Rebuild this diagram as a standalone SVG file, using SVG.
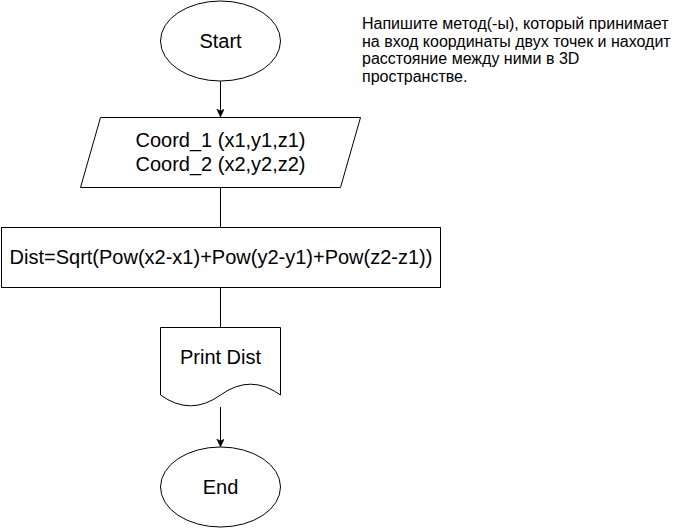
<svg xmlns="http://www.w3.org/2000/svg" width="681" height="528" viewBox="0 0 681 528">
<style>
.shape{fill:#ffffff;stroke:#000000;stroke-width:1}
.lbl{font-family:"Liberation Sans",Arial,sans-serif;font-size:20px;fill:#000000;text-anchor:middle}
.note{font-family:"Liberation Sans",Arial,sans-serif;font-size:16px;fill:#000000}
.edge{fill:none;stroke:#000000;stroke-width:1}
</style>
<defs>
<marker id="arr" markerUnits="userSpaceOnUse" markerWidth="10" markerHeight="10" refX="8" refY="3.75" orient="auto">
<path d="M0,0 L8,3.75 L0,7.5 L2,3.75 Z" fill="#000000" stroke="#000000" stroke-width="0.5"/>
</marker>
</defs>
<rect width="681" height="528" fill="#ffffff"/>
<g id="connectors">
<line class="edge" x1="220.5" y1="81" x2="220.5" y2="117" marker-end="url(#arr)"/>
<line class="edge" x1="220.5" y1="187" x2="220.5" y2="227"/>
<line class="edge" x1="220.5" y1="287" x2="220.5" y2="327"/>
<line class="edge" x1="220.5" y1="407" x2="220.5" y2="447" marker-end="url(#arr)"/>
</g>
<g id="start">
<ellipse class="shape" cx="220.5" cy="41" rx="60" ry="40"/>
<text class="lbl" x="220.5" y="48">Start</text>
</g>
<g id="input">
<path class="shape" d="M100.5,117.5 H360.5 L340.5,187.5 H80.5 Z"/>
<text class="lbl" x="220.5" y="146.5">Coord_1 (x1,y1,z1)</text>
<text class="lbl" x="220.5" y="170.5">Coord_2 (x2,y2,z2)</text>
</g>
<g id="process">
<rect class="shape" x="1.5" y="227.5" width="439" height="60"/>
<text class="lbl" x="221" y="264">Dist=Sqrt(Pow(x2-x1)+Pow(y2-y1)+Pow(z2-z1))</text>
</g>
<g id="print">
<path class="shape" d="M160.5,327.5 H280.5 V395 Q250.5,373.4 220.5,395 Q190.5,416.6 160.5,395 Z"/>
<text class="lbl" x="220.5" y="363.5">Print Dist</text>
</g>
<g id="end">
<ellipse class="shape" cx="220.5" cy="487" rx="60" ry="40"/>
<text class="lbl" x="220.5" y="494">End</text>
</g>
<g id="note">
<text class="note" x="362" y="29">Напишите метод(-ы), который принимает</text>
<text class="note" x="362" y="46.5">на вход координаты двух точек и находит</text>
<text class="note" x="362" y="64">расстояние между ними в 3D</text>
<text class="note" x="362" y="81.5">пространстве.</text>
</g>
</svg>
